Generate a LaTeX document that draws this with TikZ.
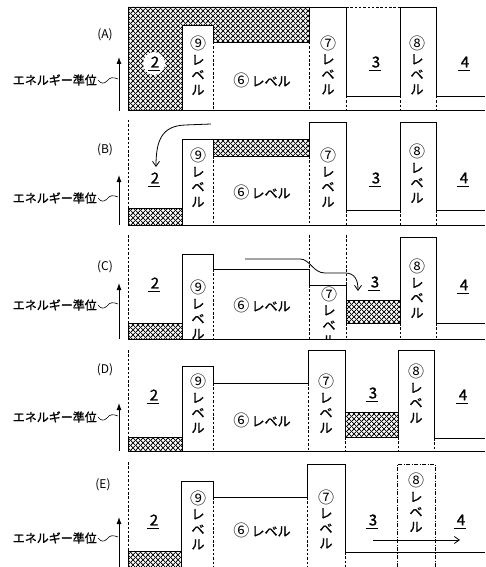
\documentclass[tikz,border=0pt]{standalone}
\usepackage{fontspec}
\newfontfamily\jp[AutoFakeBold=1.3]{Noto Sans CJK JP}
\usetikzlibrary{patterns.meta,arrows.meta}
\tikzdeclarepattern{
  name=xhatch,
  type=uncolored,
  bounding box={(0pt,0pt) and (4.5pt,4.5pt)},
  tile size={(4.5pt,4.5pt)},
  code={
    \draw[line width=0.8pt] (-1pt,-1pt) -- (5.5pt,5.5pt);
    \draw[line width=0.8pt] (-1pt,5.5pt) -- (5.5pt,-1pt);
  }
}
\tikzset{
  prof/.style={line width=0.9pt, line join=miter},
  dsh/.style={line width=0.6pt, dash pattern=on 2.5pt off 1.8pt},
  dshdot/.style={line width=0.6pt, dash pattern=on 4pt off 1.5pt on 1pt off 1.5pt},
  hatchfill/.style={pattern=xhatch, pattern color=black},
  plab/.style={font=\jp\fontsize{12}{13}\selectfont, inner sep=0pt},
  elab/.style={font=\jp\bfseries\fontsize{12}{14}\selectfont, inner sep=0pt, anchor=east},
  vlab/.style={font=\jp\bfseries\fontsize{13}{15}\selectfont, align=center, inner sep=0pt},
  hlab/.style={font=\jp\bfseries\fontsize{13}{15}\selectfont, inner sep=0pt},
  rnum/.style={font=\jp\bfseries\fontsize{15}{17}\selectfont, inner sep=0pt},
  eaxis/.style={line width=0.9pt, -{Latex[length=7pt,width=5pt]}},
  flow/.style={line width=0.8pt, -{Straight Barb[length=5pt,width=7pt]}},
  leader/.style={line width=0.6pt},
}
\newcommand\circd[1]{{\mdseries\fontsize{16}{15}\selectfont #1}}
\newcommand\regnum[4]{\node[rnum] (#1) at (#2,#3) {#4};
  \draw[line width=0.6pt] ([xshift=-3pt,yshift=-2.5pt]#1.south west) -- ([xshift=1pt,yshift=-2.5pt]#1.south east);}
\newcommand\vlev[4]{\node[vlab] (#1) at (#2,#3) {\circd{#4}\\レ\\ベ\\ル};}
\newcommand\elev[5]{\node[elab] (#1) at (97,#2) {エネルギー準位};
  \coordinate (#1w) at (118,#2-1);
  \draw[leader] ([xshift=1pt]#1.east) .. controls (101,#2+4) and (104,#2+4) .. (107,#2+1) .. controls (110,#2-3) and (113,#2-3) .. (#1w);
  \coordinate (#1b) at (119,#3); \coordinate (#1t) at (119,#4);
  \draw[eaxis] (#1b) -- (#1t);}
\begin{document}
\begin{tikzpicture}[x=1pt,y=-1pt]
\useasboundingbox (0,0) rectangle (485,567);

% ---------------- (A)
\node[plab] (pA) at (105,35) {(A)};
\elev{eA}{80}{111}{57}{35}
\fill[hatchfill] (128,110) -- (128,7) -- (309,7) -- (309,42) -- (213,42) -- (213,25) -- (182,25) -- (182,110) -- cycle;
\draw[prof] (128,110) -- (128,7) -- (309,7) -- (309,42) -- (213,42) -- (213,25) -- (182,25) -- (182,110);
\draw[prof] (309,7) -- (346,7) -- (346,96) -- (400,96) -- (400,7) -- (436,7) -- (436,96) -- (485,96);
\draw[dsh] (346,7) -- (400,7);
\draw[dsh] (213,42) -- (213,110) (309,42) -- (309,110) (346,96) -- (346,110) (400,96) -- (400,110) (436,96) -- (436,110);
\draw[prof] (128,110) -- (485,110);
\fill[white] (154,63.5) ellipse (11pt and 11.5pt);
\regnum{rA2}{155}{62}{2}
\regnum{rA3}{376}{62}{3}
\regnum{rA4}{465}{62}{4}
\vlev{vA9}{198}{65.5}{⑨}
\vlev{vA7}{328}{65}{⑦}
\vlev{vA8}{417}{65}{⑧}
\node[hlab] (hA6) at (262,80) {\circd{⑥}\,レベル};

% ---------------- (B)
\node[plab] (pB) at (105,150) {(B)};
\elev{eB}{198}{225}{175}{150}
\draw[dsh] (128,120) -- (128,208);
\fill[hatchfill] (128,208) rectangle (182,225);
\fill[hatchfill] (213,139) rectangle (309,156);
\draw[prof] (128,225) -- (128,208) -- (182,208) -- (182,139) -- (309,139) -- (309,122) -- (346,122) -- (346,210) -- (400,210) -- (400,122) -- (436,122) -- (436,210) -- (485,210);
\draw[prof] (182,208) -- (182,225);
\draw[prof] (213,139) -- (213,156) -- (309,156) -- (309,139);
\draw[dsh] (213,156) -- (213,225) (309,156) -- (309,225) (346,210) -- (346,225) (400,210) -- (400,225) (436,210) -- (436,225);
\draw[prof] (128,225) -- (485,225);
\regnum{rB2}{155}{178}{2}
\regnum{rB3}{376}{178}{3}
\regnum{rB4}{464}{178}{4}
\vlev{vB9}{198}{177.5}{⑨}
\vlev{vB7}{328}{177.5}{⑦}
\vlev{vB8}{417}{173.5}{⑧}
\node[hlab] (hB6) at (262,192) {\circd{⑥}\,レベル};
\coordinate (fB0) at (211,124);
\coordinate (fB1) at (156,167);
\draw[flow] (fB0) -- (185,125) .. controls (162,126) and (156,140) .. (fB1);

% ---------------- (C)
\node[plab] (pC) at (105,267) {(C)};
\elev{eC}{305}{339}{283}{267}
\draw[dsh] (128,235) -- (128,323);
\fill[hatchfill] (128,323) rectangle (182,339);
\fill[hatchfill] (346,300) rectangle (400,323);
\draw[prof] (128,339) -- (128,323) -- (182,323) -- (182,254) -- (213,254) -- (213,269) -- (309,269) -- (309,285) -- (346,285) -- (346,300);
\draw[prof] (182,323) -- (182,339);
\draw[prof] (346,300) rectangle (400,323);
\draw[prof] (400,300) -- (400,237) -- (436,237) -- (436,323) -- (485,323);
\draw[dsh] (309,235) -- (309,269) (309,285) -- (309,339) (346,235) -- (346,285) (346,323) -- (346,339) (213,269) -- (213,339) (400,323) -- (400,339) (436,323) -- (436,339);
\regnum{rC2}{155}{283}{2}
\regnum{rC3}{375}{282}{3}
\regnum{rC4}{464}{285}{4}
\vlev{vC9}{198}{309.5}{⑨}
\begin{scope}
\clip (310,286) rectangle (345,338);
\vlev{vC7}{329}{316}{⑦}
\end{scope}
\vlev{vC8}{417}{288.5}{⑧}
\draw[prof] (128,339) -- (485,339);
\node[hlab] (hC6) at (262,305) {\circd{⑥}\,レベル};
\coordinate (fC0) at (245,259);
\coordinate (fC1) at (358,291);
\draw[flow] (fC0) -- (300,259) .. controls (310,259) and (313,273) .. (325,273) -- (345,273) .. controls (355,273) and (358,280) .. (fC1);

% ---------------- (D)
\node[plab] (pD) at (105,370) {(D)};
\elev{eD}{417}{451}{403}{370}
\draw[dsh] (128,350) -- (128,437);
\fill[hatchfill] (128,437) rectangle (182,451);
\fill[hatchfill] (345,412) rectangle (398,437);
\draw[prof] (128,451) -- (128,437) -- (182,437) -- (182,366) -- (213,366) -- (213,383) -- (308,383) -- (308,350) -- (345,350) -- (345,412);
\draw[prof] (182,437) -- (182,451);
\draw[prof] (345,412) rectangle (398,437);
\draw[prof] (398,412) -- (398,350) -- (434,350) -- (434,438) -- (485,438);
\draw[dsh] (213,383) -- (213,451) (308,383) -- (308,451) (345,437) -- (345,451) (398,437) -- (398,451) (434,438) -- (434,451);
\draw[prof] (128,451) -- (485,451);
\regnum{rD2}{154}{395}{2}
\regnum{rD3}{373}{393}{3}
\regnum{rD4}{463}{395}{4}
\vlev{vD9}{198}{403.5}{⑨}
\vlev{vD7}{326}{403.5}{⑦}
\vlev{vD8}{416}{393.5}{⑧}
\node[hlab] (hD6) at (262,420) {\circd{⑥}\,レベル};

% ---------------- (E)
\node[plab] (pE) at (103,485) {(E)};
\elev{eE}{538}{567}{517}{485}
\draw[dsh] (128,462) -- (128,551);
\fill[hatchfill] (128,551) rectangle (181,567);
\draw[prof] (128,567) -- (128,551) -- (181,551) -- (181,481) -- (213,481) -- (213,497) -- (307,497) -- (307,464) -- (345,464) -- (345,552) -- (485,552);
\draw[prof] (181,551) -- (181,567);
\draw[dshdot] (397,567) -- (397,464) -- (435,464) -- (435,567);
\draw[dsh] (213,497) -- (213,567) (307,497) -- (307,567) (345,552) -- (345,567);
\regnum{rE2}{154}{520}{2}
\regnum{rE3}{373}{520}{3}
\regnum{rE4}{461}{520}{4}
\vlev{vE9}{198}{520}{⑨}
\vlev{vE7}{326}{519}{⑦}
\vlev{vE8}{416}{502.5}{⑧}
\node[hlab] (hE6) at (262,530) {\circd{⑥}\,レベル};
\coordinate (fE0) at (373,540);
\coordinate (fE1) at (460,540);
\draw[flow] (fE0) -- (fE1);
\end{tikzpicture}
\end{document}
